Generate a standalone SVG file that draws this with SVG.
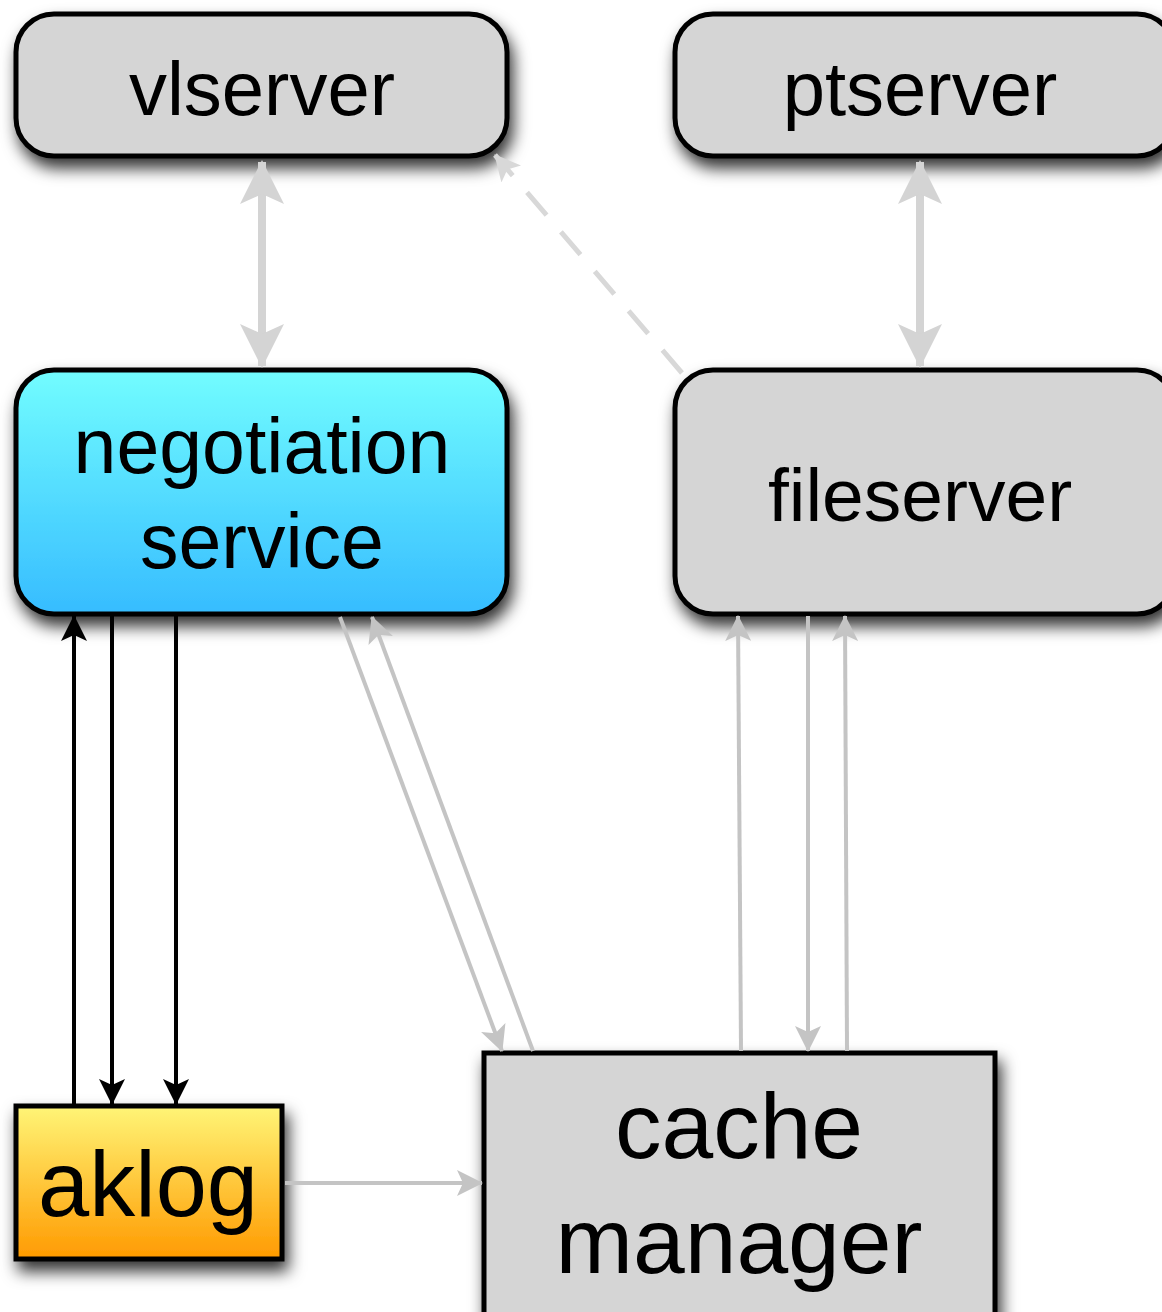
<svg xmlns="http://www.w3.org/2000/svg" width="1162" height="1312" viewBox="0 0 1162 1312">
<style>
.node{stroke:#000;stroke-width:5}
.lbl{font-family:"Liberation Sans",Arial,sans-serif;fill:#000;text-anchor:middle}
.big{stroke:#d4d4d4;stroke-width:8;fill:none}
.thin{stroke:#c4c4c4;stroke-width:4;fill:none}
.blk{stroke:#000;stroke-width:4;fill:none}
</style>
<defs>
<filter id="sh" x="-20%" y="-20%" width="150%" height="160%">
<feDropShadow dx="4" dy="10" stdDeviation="8" flood-color="#000" flood-opacity="0.8"/>
</filter>
<linearGradient id="gBlue" x1="0" y1="0" x2="0" y2="1">
<stop offset="0" stop-color="#72fdff"/><stop offset="1" stop-color="#36bcff"/>
</linearGradient>
<linearGradient id="gOrange" x1="0" y1="0" x2="0" y2="1">
<stop offset="0" stop-color="#fff577"/><stop offset="1" stop-color="#ff9a00"/>
</linearGradient>
<marker id="mBig" markerUnits="userSpaceOnUse" viewBox="0 0 44 44" refX="42" refY="22" markerWidth="44" markerHeight="44" orient="auto-start-reverse">
<path d="M0,0 L44,22 L0,44 L10,22 Z" fill="#d4d4d4"/>
</marker>
<marker id="mThin" markerUnits="userSpaceOnUse" viewBox="0 0 26 26" refX="25" refY="13" markerWidth="26" markerHeight="26" orient="auto-start-reverse">
<path d="M0,0 L26,13 L0,26 L6,13 Z" fill="#c4c4c4"/>
</marker>
<marker id="mDash" markerUnits="userSpaceOnUse" viewBox="0 0 26 26" refX="25" refY="13" markerWidth="26" markerHeight="26" orient="auto-start-reverse">
<path d="M0,0 L26,13 L0,26 L6,13 Z" fill="#d8d8d8"/>
</marker>
<marker id="mBlk" markerUnits="userSpaceOnUse" viewBox="0 0 26 26" refX="25" refY="13" markerWidth="26" markerHeight="26" orient="auto-start-reverse">
<path d="M0,0 L26,13 L0,26 L6,13 Z" fill="#000"/>
</marker>
</defs>

<g id="vlserver">
<rect class="node" x="16" y="14" width="491" height="142" rx="38" fill="#d5d5d5" filter="url(#sh)"/>
<text class="lbl" x="262" y="115" font-size="76">vlserver</text>
</g>
<g id="ptserver">
<rect class="node" x="675" y="14" width="500" height="142" rx="38" fill="#d5d5d5" filter="url(#sh)"/>
<text class="lbl" x="920" y="115" font-size="76">ptserver</text>
</g>
<g id="negotiation">
<rect class="node" x="16" y="370" width="491" height="244" rx="38" fill="url(#gBlue)" filter="url(#sh)"/>
<text class="lbl" x="262" y="473" font-size="77">negotiation</text>
<text class="lbl" x="262" y="568" font-size="77">service</text>
</g>
<g id="fileserver">
<rect class="node" x="675" y="370" width="500" height="244" rx="38" fill="#d5d5d5" filter="url(#sh)"/>
<text class="lbl" x="920" y="521" font-size="75">fileserver</text>
</g>
<g id="aklog">
<rect class="node" x="16" y="1106" width="266" height="153" fill="url(#gOrange)" filter="url(#sh)"/>
<text class="lbl" x="148" y="1216" font-size="92">aklog</text>
</g>
<g id="cache">
<rect class="node" x="484" y="1053" width="511" height="270" fill="#d5d5d5" filter="url(#sh)"/>
<text class="lbl" x="739" y="1158" font-size="93">cache</text>
<text class="lbl" x="739" y="1273" font-size="93">manager</text>
</g>

<g id="connectors">
<line class="big" x1="262" y1="162" x2="262" y2="366" marker-start="url(#mBig)" marker-end="url(#mBig)"/>
<line class="big" x1="920" y1="162" x2="920" y2="366" marker-start="url(#mBig)" marker-end="url(#mBig)"/>
<line x1="682" y1="373" x2="495" y2="155" stroke="#d8d8d8" stroke-width="5" stroke-dasharray="30,22" marker-end="url(#mDash)"/>
<line class="blk" x1="74" y1="1104" x2="74" y2="616" marker-end="url(#mBlk)"/>
<line class="blk" x1="112" y1="616" x2="112" y2="1104" marker-end="url(#mBlk)"/>
<line class="blk" x1="176" y1="616" x2="176" y2="1104" marker-end="url(#mBlk)"/>
<line class="thin" x1="340" y1="617" x2="502" y2="1051" marker-end="url(#mThin)"/>
<line class="thin" x1="533" y1="1051" x2="372" y2="617" marker-end="url(#mThin)"/>
<line class="thin" x1="741" y1="1051" x2="738" y2="616" marker-end="url(#mThin)"/>
<line class="thin" x1="808" y1="616" x2="808" y2="1051" marker-end="url(#mThin)"/>
<line class="thin" x1="847" y1="1051" x2="845" y2="616" marker-end="url(#mThin)"/>
<line class="thin" x1="285" y1="1183" x2="482" y2="1183" marker-end="url(#mThin)"/>
</g>
</svg>
